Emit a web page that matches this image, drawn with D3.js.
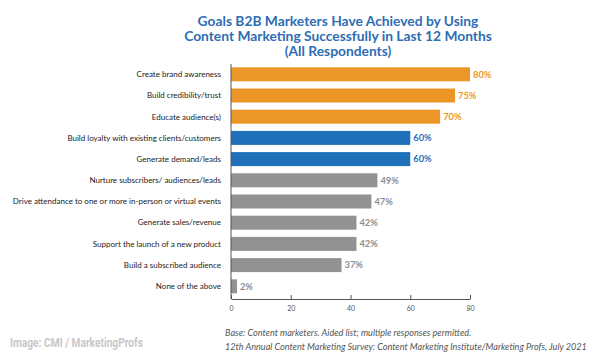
<!DOCTYPE html>
<html>
<head>
<meta charset="utf-8">
<script src="https://cdn.jsdelivr.net/npm/d3@7"></script>
<style>
  html, body { margin: 0; padding: 0; background: #fff; }
  svg { display: block; }
</style>
</head>
<body>
<svg id="chart" width="600" height="356"></svg>
<script>
const titleLines = [
  "Goals B2B Marketers Have Achieved by Using",
  "Content Marketing Successfully in Last 12 Months",
  "(All Respondents)"
];
const categories = [
  "Create brand awareness",
  "Build credibility/trust",
  "Educate audience(s)",
  "Build loyalty with existing clients/customers",
  "Generate demand/leads",
  "Nurture subscribers/ audiences/leads",
  "Drive attendance to one or more in-person or virtual events",
  "Generate sales/revenue",
  "Support the launch of a new product",
  "Build a subscribed audience",
  "None of the above"
];
const values = [80, 75, 70, 60, 60, 49, 47, 42, 42, 37, 2];
const groups = ["top", "top", "top", "mid", "mid", "rest", "rest", "rest", "rest", "rest", "rest"];
const xTicks = [0, 20, 40, 60, 80];
const noteLines = [
  "Base: Content marketers. Aided list; multiple responses permitted.",
  "12th Annual Content Marketing Survey: Content Marketing Institute/Marketing Profs, July 2021"
];
const credit = "Image: CMI / MarketingProfs";

const colors = { top: "#EC9628", mid: "#1F72BA", rest: "#929292" };
const labelColors = { top: "#EC9628", mid: "#1F72BA", rest: "#8E8E8E" };

const svg = d3.select("#chart");

// Title
svg.append("text")
  .attr("x", 338).attr("y", 26)
  .attr("text-anchor", "middle")
  .attr("font-family", "Lato, 'Open Sans', sans-serif")
  .attr("font-weight", "bold")
  .attr("font-size", 13.8)
  .attr("fill", "#2E6DB4")
  .selectAll("tspan").data(titleLines).join("tspan")
  .attr("x", 338).attr("dy", (d, i) => i === 0 ? 0 : 14.8)
  .text(d => d);

const x = d3.scaleLinear().domain([0, 80]).range([231, 470]);
const y = d3.scaleBand().domain(categories).range([64, 296.6])
  .paddingInner(0.34).paddingOuter(0.156);

// Bars
svg.append("g").selectAll("rect").data(values).join("rect")
  .attr("x", x(0))
  .attr("y", (d, i) => y(categories[i]))
  .attr("width", d => x(d) - x(0))
  .attr("height", y.bandwidth())
  .attr("fill", (d, i) => colors[groups[i]]);

// Value labels
svg.append("g").selectAll("text").data(values).join("text")
  .attr("x", d => x(d) + 3)
  .attr("y", (d, i) => y(categories[i]) + y.bandwidth() / 2)
  .attr("dy", "0.35em")
  .attr("font-family", "Lato, sans-serif")
  .attr("font-weight", "bold")
  .attr("font-size", 9.3)
  .attr("fill", (d, i) => labelColors[groups[i]])
  .text(d => d + "%");

// Category labels
svg.append("g").selectAll("text").data(categories).join("text")
  .attr("x", 221)
  .attr("y", d => y(d) + y.bandwidth() / 2)
  .attr("dy", "0.35em")
  .attr("text-anchor", "end")
  .attr("font-family", "Lato, sans-serif")
  .attr("font-size", 8)
  .attr("fill", "#222")
  .text(d => d);

// Y axis line
svg.append("line")
  .attr("x1", 231).attr("x2", 231)
  .attr("y1", 64).attr("y2", 299)
  .attr("stroke", "#555").attr("stroke-width", 1);

// X axis
const xAxis = d3.axisBottom(x).tickValues(xTicks).tickSize(4).tickSizeOuter(0).tickPadding(3);
const gx = svg.append("g").attr("transform", "translate(0,299)").call(xAxis);
gx.select(".domain").attr("stroke", "#555");
gx.selectAll(".tick line").attr("stroke", "#555").attr("transform", "translate(0,-4)").attr("y2", 4);
gx.selectAll(".tick text")
  .attr("font-family", "Lato, sans-serif")
  .attr("font-size", 7)
  .attr("fill", "#555");

// Notes
svg.append("g").selectAll("text").data(noteLines).join("text")
  .attr("x", 225)
  .attr("y", (d, i) => 336 + i * 14)
  .attr("font-family", "Lato, sans-serif")
  .attr("font-style", "italic")
  .attr("font-size", 9.1)
  .attr("fill", "#555")
  .text(d => d);

// Credit
svg.append("text")
  .attr("x", 10).attr("y", 347)
  .attr("font-family", "'Liberation Sans Narrow', 'Roboto', sans-serif")
  .attr("font-weight", "bold")
  .attr("font-size", 12)
  .attr("fill", "#C8C8C8")
  .attr("textLength", 133)
  .attr("lengthAdjust", "spacingAndGlyphs")
  .text(credit);
</script>
</body>
</html>
